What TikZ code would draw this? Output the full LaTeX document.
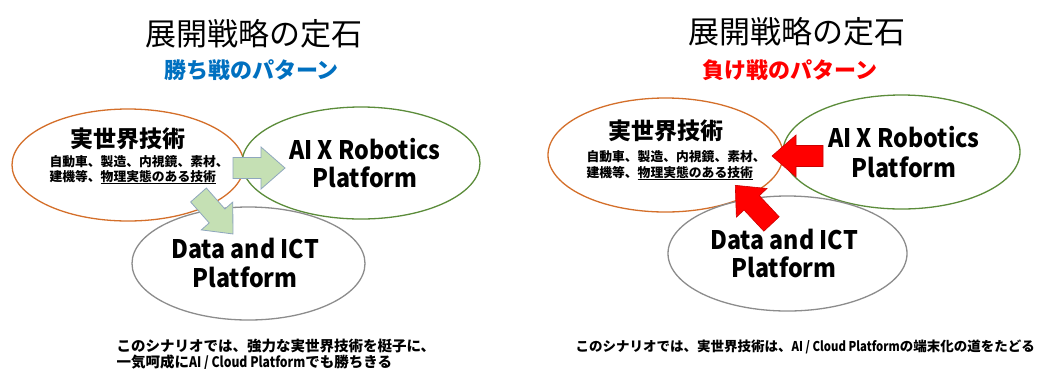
\documentclass[tikz,border=0pt]{standalone}
\usepackage{fontspec}
\setmainfont{Noto Sans CJK JP}
\newfontfamily\platfont{Noto Sans CJK JP}[FakeStretch=0.91]
\newfontfamily\latnfont{Noto Sans CJK JP}[FakeStretch=0.84]
\usetikzlibrary{shapes.geometric}
\definecolor{cOrange}{HTML}{D46F2A}
\definecolor{cGreen}{HTML}{5B8C3A}
\definecolor{cGray}{HTML}{8C8C8C}
\definecolor{cBlue}{HTML}{0070C0}
\definecolor{cRed}{HTML}{FF0000}
\definecolor{cArrowFill}{HTML}{C5E0B4}
\definecolor{cArrowLine}{HTML}{8FA7BE}
\newcommand\blkarrow[4]{%
  \begin{scope}[shift={#1},rotate=#2]
    \draw[#4] (0,-10.5) -- (#3-24,-10.5) -- (#3-24,-21) -- (#3,0)
      -- (#3-24,21) -- (#3-24,10.5) -- (0,10.5) -- cycle;
  \end{scope}}
\newcommand\lt[1]{{\latnfont\bfseries #1}}
\begin{document}
\begin{tikzpicture}[x=1pt,y=-1pt,
  oval/.style={draw, ellipse, line width=1.3pt, inner sep=0pt},
  title/.style={anchor=base, font=\fontsize{31}{31}\selectfont},
  subtitle/.style={anchor=base, font=\fontsize{22}{22}\selectfont\bfseries},
  head/.style={anchor=base, font=\fontsize{23}{23}\selectfont\bfseries},
  small/.style={anchor=base west, font=\fontsize{12.8}{12.8}\selectfont\bfseries},
  plat/.style={anchor=base, font=\platfont\fontsize{25.5}{25.5}\selectfont\bfseries},
  note/.style={anchor=base west, font=\fontsize{14.5}{14.5}\selectfont\bfseries},
  garrow/.style={fill=cArrowFill, draw=cArrowLine, line width=0.8pt, line join=miter},
  rarrow/.style={fill=cRed, draw=cRed!80!black, line width=0.6pt, line join=miter}]
\useasboundingbox (0,0) rectangle (1041,368);
\fill[white] (0,0) rectangle (1041,368);

% ---------- left panel ----------
\node[oval, draw=cOrange, minimum width=232pt, minimum height=112pt] (lreal) at (128,165) {};
\node[oval, draw=cGreen, minimum width=238pt, minimum height=112pt] (lai) at (361,163) {};
\node[oval, draw=cGray, minimum width=233pt, minimum height=113pt] (lict) at (248.5,263.5) {};

\blkarrow{(233,168)}{0}{52}{garrow}
\blkarrow{(198.5,195)}{-48.5}{52}{garrow}

\node[title] (ltitle) at (254,45) {展開戦略の定石};
\node[subtitle, text=cBlue] (lsub) at (251.5,78) {勝ち戦のパターン};
\node[head] (lrealt) at (127.5,147) {実世界技術};
\node[small] (lreal1) at (46,166) {自動車、製造、内視鏡、素材、};
\node[small] (lreal2) at (46,181) {建機等、\underline{物理実態のある技術}};
\node[plat] (lai1) at (365,159) {AI X Robotics};
\node[plat] (lai2) at (365,187) {Platform};
\node[plat] (lict1) at (245,258) {Data and ICT};
\node[plat] (lict2) at (245,287.5) {Platform};
\node[note] (lnote1) at (113,351) {このシナリオでは、強力な実世界技術を梃子に、};
\node[note] (lnote2) at (113,367) {一気呵成に\lt{AI / Cloud Platform}でも勝ちきる};

% ---------- right panel ----------
\node[oval, draw=cOrange, minimum width=235pt, minimum height=114pt] (rreal) at (665.5,155) {};
\node[oval, draw=cGreen, minimum width=237pt, minimum height=114pt] (rai) at (901.5,152) {};
\node[oval, draw=cGray, minimum width=239pt, minimum height=115pt] (rict) at (787.5,253.5) {};

\blkarrow{(823,156)}{180}{51}{rarrow}
\blkarrow{(771.5,224)}{133.1}{53}{rarrow}

\node[title] (rtitle) at (797,43) {展開戦略の定石};
\node[subtitle, text=cRed] (rsub) at (790,78) {負け戦のパターン};
\node[head] (rrealt) at (666,139) {実世界技術};
\node[small] (rreal1) at (583,161) {自動車、製造、内視鏡、素材、};
\node[small] (rreal2) at (583,177) {建機等、\underline{物理実態のある技術}};
\node[plat] (rai1) at (904,147) {AI X Robotics};
\node[plat] (rai2) at (904,177) {Platform};
\node[plat] (rict1) at (784,249) {Data and ICT};
\node[plat] (rict2) at (784,277) {Platform};
\node[note, font=\fontsize{13.5}{13.5}\selectfont\bfseries] (rnote) at (572,351) {このシナリオでは、実世界技術は、\lt{AI / Cloud Platform}の端末化の道をたどる};
\end{tikzpicture}
\end{document}
